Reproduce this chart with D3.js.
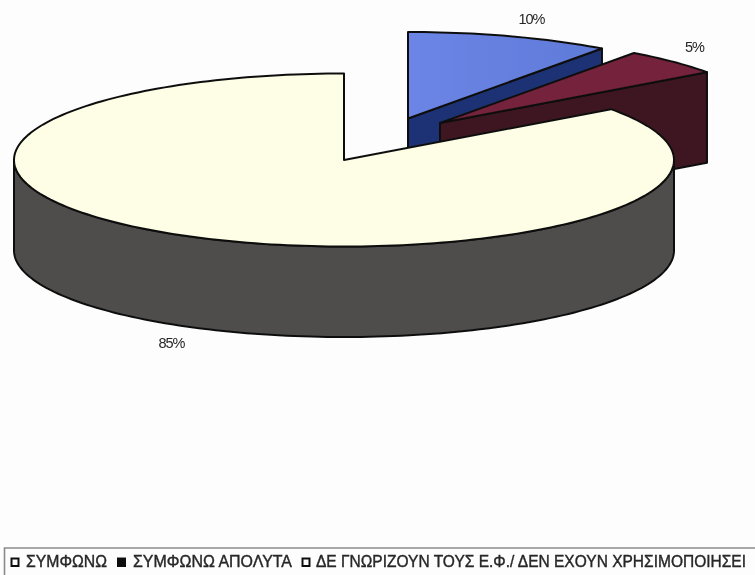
<!DOCTYPE html>
<html>
<head>
<meta charset="utf-8">
<script src="https://cdnjs.cloudflare.com/ajax/libs/d3/7.8.5/d3.min.js"></script>
<style>
  html, body { margin: 0; padding: 0; background: #fdfdfd; }
  svg { display: block; }
  text { font-family: "Liberation Sans", Arial, sans-serif; fill: #262626; }
</style>
</head>
<body>
<div id="chart"></div>
<script>
// values
const categories = ["ΣΥΜΦΩΝΩ", "ΣΥΜΦΩΝΩ ΑΠΟΛΥΤΑ", "ΔΕ ΓΝΩΡΙΖΟΥΝ ΤΟΥΣ Ε.Φ./ ΔΕΝ ΕΧΟΥΝ ΧΡΗΣΙΜΟΠΟΙΗΣΕΙ"];
const values = [10, 5, 85];
const labels = ["10%", "5%", "85%"];

const topColors  = ["#6b84e6", "#74203c", "#fefee6"];
const wallColors = ["#1f3374", "#3d1520", "#4f4d4b"];
const legendFill = ["#fdfdfd", "#111111", "#fdfdfd"];

// where each exploded slice has its apex on screen
const centers = [[408, 118.5], [440, 123], [344, 160]];
const labelPos = [[531.5, 24], [694.5, 52], [171.5, 348]];
const legendPos = [
  { box: 11.5,  text: 26,  len: 81 },
  { box: 118, text: 133, len: 159 },
  { box: 302.5, text: 316, len: 430 }
];

const W = 755, H = 575;
const rx = 330, ry = 86.5, depth = 90.5;

const svg = d3.select("#chart").append("svg")
  .attr("width", W).attr("height", H);

// scan of a photocopy, so everything is a little soft
const defs = svg.append("defs");
defs.append("filter").attr("id", "soft")
  .append("feGaussianBlur").attr("stdDeviation", 0.6);

const grad = defs.append("linearGradient").attr("id", "blueTop")
  .attr("x1", 0).attr("y1", 0).attr("x2", 1).attr("y2", 0);
grad.append("stop").attr("offset", "0%").attr("stop-color", "#6c85e6");
grad.append("stop").attr("offset", "100%").attr("stop-color", "#5f7ad8");

const root = svg.append("g").attr("filter", "url(#soft)");

const pie = d3.pie().sort(null).value(d => d);
const slices = pie(values);

// point on the rim, angle measured clockwise from 12 o'clock like d3.pie
const rim = (c, a, dy = 0) => [c[0] + rx * Math.sin(a), c[1] - ry * Math.cos(a) + dy];
const arcPts = (c, a0, a1, dy = 0) => {
  const n = Math.max(2, Math.ceil(Math.abs(a1 - a0) * 40));
  return d3.range(n + 1).map(i => rim(c, a0 + (a1 - a0) * i / n, dy));
};
const line = d3.line();

slices.forEach((s, i) => {
  const c = centers[i];
  const g = root.append("g");

  // walls first, top surface goes over them
  if (i < 2) {
    // cut face on the end of the slice
    const e = rim(c, s.endAngle);
    g.append("path")
      .attr("d", line([c, e, [e[0], e[1] + depth], [c[0], c[1] + depth]]) + "Z")
      .attr("fill", wallColors[i])
      .attr("stroke", "#111").attr("stroke-width", 2).attr("stroke-linejoin", "round");
  } else {
    // front of the rim, right edge round to the left edge
    const front = arcPts(c, Math.PI / 2, Math.PI * 3 / 2);
    const low = arcPts(c, Math.PI * 3 / 2, Math.PI / 2, depth);
    g.append("path")
      .attr("d", line(front.concat(low)) + "Z")
      .attr("fill", wallColors[i])
      .attr("stroke", "#111").attr("stroke-width", 2).attr("stroke-linejoin", "round");
  }

  const top = [c].concat(arcPts(c, s.startAngle, s.endAngle));
  g.append("path")
    .attr("d", line(top) + "Z")
    .attr("fill", i === 0 ? "url(#blueTop)" : topColors[i])
    .attr("stroke", "#111").attr("stroke-width", 2).attr("stroke-linejoin", "round");
});

// percentage labels
root.selectAll("text.pct")
  .data(labels)
  .join("text")
    .attr("class", "pct")
    .attr("x", (d, i) => labelPos[i][0])
    .attr("y", (d, i) => labelPos[i][1])
    .attr("text-anchor", "middle")
    .attr("font-size", 14.5)
    .attr("letter-spacing", -1)
    .text(d => d);

// legend frame is cut off by the bottom of the page
root.append("path")
  .attr("d", "M4.5,576V548H755")
  .attr("fill", "none").attr("stroke", "#8a8a8a").attr("stroke-width", 1.6);

const legend = root.selectAll("g.leg")
  .data(categories)
  .join("g").attr("class", "leg");

legend.append("rect")
  .attr("x", (d, i) => legendPos[i].box)
  .attr("y", 558.5)
  .attr("width", 7).attr("height", 7.5)
  .attr("fill", (d, i) => legendFill[i])
  .attr("stroke", "#111").attr("stroke-width", 2);

// taller and heavier than plain Liberation, the scan thickened the type
legend.append("text")
  .attr("transform", (d, i) => `translate(${legendPos[i].text},567) scale(1,1.12)`)
  .attr("font-size", 15)
  .attr("stroke", "#262626").attr("stroke-width", 0.35)
  .attr("textLength", (d, i) => legendPos[i].len)
  .attr("lengthAdjust", "spacingAndGlyphs")
  .text(d => d);
</script>
</body>
</html>
